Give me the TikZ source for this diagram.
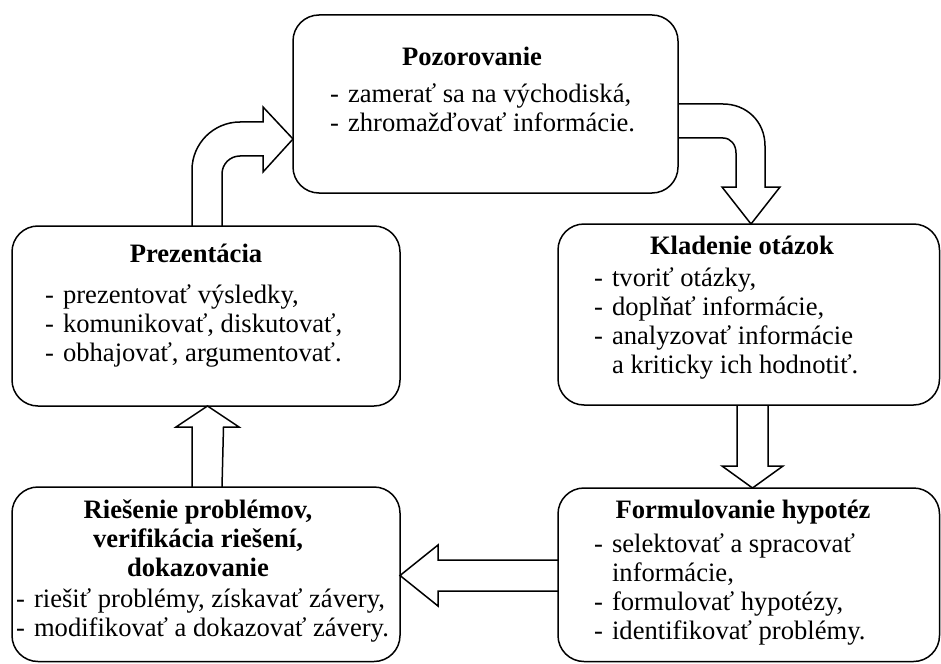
\documentclass[tikz,border=0pt]{standalone}
\usepackage{fontspec}
\setmainfont{Liberation Serif}
\usetikzlibrary{calc,backgrounds}
\begin{document}
\begin{tikzpicture}[x=1pt,y=-1pt,
  box/.style={draw, line width=1.5pt, rounded corners=26pt, inner sep=0pt, outer sep=0pt},
  txt/.style={inner sep=0pt, font=\fontsize{26.6}{29}\selectfont},
  ttl/.style={inner sep=0pt, font=\fontsize{26.6}{29}\selectfont\bfseries},
  blk/.style={draw, fill=white, line width=1.5pt, line join=miter}]
\useasboundingbox (0,0) rectangle (941,663);

% boxes
\node[box, minimum width=385pt, minimum height=178pt] (pozor) at (485.5,104) {};
\node[box, minimum width=388pt, minimum height=180pt] (prez) at (206,316) {};
\node[box, minimum width=381.5pt, minimum height=181pt] (klad) at (748.75,314.5) {};
\node[box, minimum width=381.5pt, minimum height=173.5pt] (form) at (748.75,574.75) {};
\node[box, minimum width=388pt, minimum height=174.5pt] (ries) at (206,574.25) {};

% texts
\node[ttl, anchor=base] (pozorT) at (472,66) {Pozorovanie};
\node[txt, anchor=base west] (pozorL) at (330,103) {\begin{tabular}[t]{@{}l@{\hspace{9pt}}l@{}}
-&zamerať sa na východiská,\\
-&zhromažďovať informácie.\end{tabular}};

\node[ttl, anchor=base] (prezT) at (196,262) {Prezentácia};
\node[txt, anchor=base west] (prezL) at (45,303) {\begin{tabular}[t]{@{}l@{\hspace{9pt}}l@{}}
-&prezentovať výsledky,\\
-&komunikovať, diskutovať,\\
-&obhajovať, argumentovať.\end{tabular}};

\node[ttl, anchor=base] (kladT) at (742,254) {Kladenie otázok};
\node[txt, anchor=base west] (kladL) at (594,286) {\begin{tabular}[t]{@{}l@{\hspace{9pt}}l@{}}
-&tvoriť otázky,\\
-&doplňať informácie,\\
-&analyzovať informácie\\
&a kriticky ich hodnotiť.\end{tabular}};

\node[ttl, anchor=base] (formT) at (743,518) {Formulovanie hypotéz};
\node[txt, anchor=base west] (formL) at (594,552) {\begin{tabular}[t]{@{}l@{\hspace{9pt}}l@{}}
-&selektovať a spracovať\\
&informácie,\\
-&formulovať hypotézy,\\
-&identifikovať problémy.\end{tabular}};

\node[ttl, anchor=base] (riesT) at (198,518) {\begin{tabular}[t]{@{}c@{}}
Riešenie problémov,\\
verifikácia riešení,\\
dokazovanie\end{tabular}};
\node[txt, anchor=base west] (riesL) at (16,607) {\begin{tabular}[t]{@{}l@{\hspace{9pt}}l@{}}
-&riešiť problémy, získavať závery,\\
-&modifikovať a dokazovať závery.\end{tabular}};

% block arrows (behind the boxes)
\begin{scope}[on background layer]
\fill[white] (0,0) rectangle (941,663);
% Prezentacia -> Pozorovanie (curved)
\path[blk] ($(prez.north west)+(180,0)$) -- (192,170)
  .. controls (192,143.5) and (213.5,122) .. (240,122)
  -- (263,122) -- (263,107) -- ($(pozor.north west)+(0,124)$) -- (263,172) -- (263,156)
  -- (240,156) .. controls (230,156) and (222,164) .. (222,174)
  -- ($(prez.north west)+(210,0)$);
% Pozorovanie -> Kladenie (curved)
\path[blk] ($(pozor.north east)+(0,89)$) -- (723,104)
  .. controls (746,104) and (765,121) .. (765,146)
  -- (765,187) -- (780,187) -- ($(klad.north west)+(193,0)$) -- (722,187) -- (736,187)
  -- (736,153) .. controls (736,145) and (731,138) .. (723,138)
  -- ($(pozor.north east)+(0,123)$);
% Kladenie -> Formulovanie
\path[blk] ($(klad.south west)+(179,0)$) -- ++(0,61) -- ++(-15,0)
  -- ($(form.north west)+(194.5,0)$) -- ++(30.5,-22) -- ++(-15,0)
  -- ($(klad.south west)+(210,0)$);
% Formulovanie -> Riesenie
\path[blk] ($(form.north west)+(0,72)$) -- ++(-120,0) -- ++(0,-15)
  -- ($(ries.north east)+(0,88.5)$) -- ++(38,30.5) -- ++(0,-15)
  -- ($(form.north west)+(0,103)$);
% Riesenie -> Prezentacia
\path[blk] ($(ries.north west)+(180,0)$) -- ++(0,-60) -- ++(-16,0)
  -- ($(prez.south west)+(195.5,0)$) -- ++(31.5,21) -- ++(-15.5,0)
  -- ($(ries.north west)+(210,0)$);
\end{scope}
\end{tikzpicture}
\end{document}
